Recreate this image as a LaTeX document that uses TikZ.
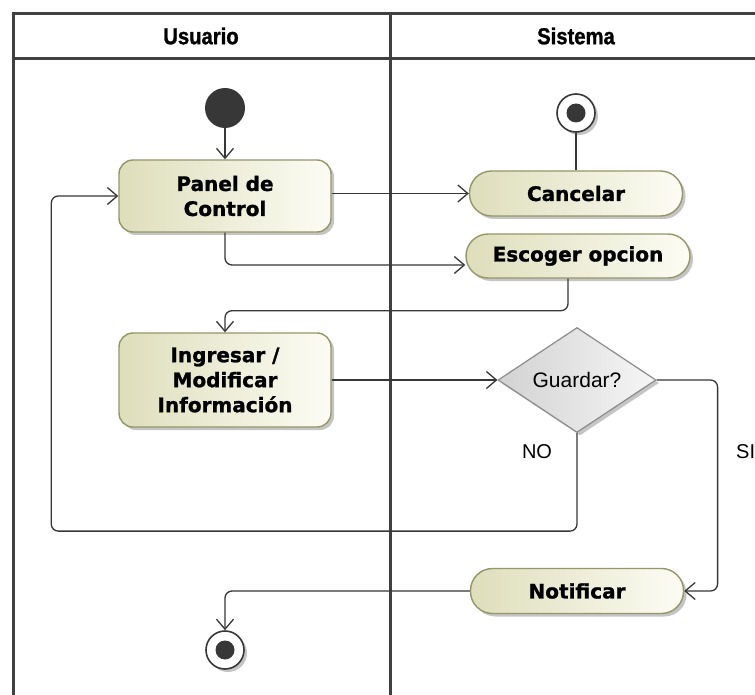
\documentclass[tikz,border=0pt]{standalone}
\usepackage{fontspec}
\setmainfont{Liberation Sans}
\newfontfamily\nodefont{DejaVu Sans}[FakeBold=1.2]
\newfontfamily\headfont{Liberation Sans}[FakeStretch=0.88,FakeBold=1.2]
\usetikzlibrary{arrows.meta,shapes.geometric,shadows,calc}
\definecolor{frame}{RGB}{64,64,64}
\definecolor{actL}{RGB}{222,222,188}
\definecolor{actR}{RGB}{252,252,244}
\definecolor{actB}{RGB}{150,150,105}
\definecolor{decL}{RGB}{210,210,210}
\definecolor{decR}{RGB}{246,246,246}
\definecolor{decB}{RGB}{140,140,140}
\definecolor{ink}{RGB}{55,55,55}
\begin{document}
\begin{tikzpicture}[x=1pt,y=-1pt,
  lane/.style={draw=frame,line width=3pt},
  head/.style={font=\headfont\bfseries\fontsize{23}{26}\selectfont,inner sep=0pt},
  shade/.style={drop shadow={shadow xshift=3pt,shadow yshift=-3pt,fill=black!45,opacity=.5}},
  act/.style={rectangle,rounded corners=14pt,draw=actB,line width=1.4pt,left color=actL,right color=actR,shade,
    font=\nodefont\bfseries\fontsize{20}{25}\selectfont,align=center,inner sep=0pt},
  pill/.style={act,rounded corners=22pt},
  dec/.style={diamond,draw=decB,line width=1.2pt,left color=decL,right color=decR,shade,inner sep=0pt,
    minimum width=158pt,minimum height=105pt,font=\fontsize{21}{24}\selectfont},
  startnode/.style={circle,fill=ink,minimum size=40pt,inner sep=0pt},
  finalnode/.style={circle,draw=ink,fill=white,line width=1.6pt,minimum size=38pt,inner sep=0pt,shade,
    path picture={\fill[ink] (path picture bounding box.center) circle (9.5pt);}},
  flow/.style={draw=ink,line width=1.3pt,rounded corners=7pt,-{Straight Barb[length=10pt,width=17pt,line width=1.3pt]}},
  plain/.style={draw=ink,line width=1.3pt},
  lbl/.style={font=\fontsize{20}{24}\selectfont,inner sep=0pt}
]
\fill[white] (0,0) rectangle (755,695);
\useasboundingbox (0,0) rectangle (755,695);
% swimlane frame
\draw[lane] (13,700) -- (13,14) -- (765,14);
\draw[lane] (13,59) -- (765,59);
\draw[lane] (390,14) -- (390,700);
\node[head] (hu) at (201,36) {Usuario};
\node[head] (hs) at (576,36) {Sistema};
% nodes
\node[startnode] (ini) at (225,108) {};
\node[act,minimum width=212pt,minimum height=72pt] (panel) at (225,196) {Panel de\\Control};
\node[finalnode] (fin1) at (576,113) {};
\node[pill,minimum width=213pt,minimum height=45pt] (canc) at (576,193.5) {Cancelar};
\node[pill,minimum width=224pt,minimum height=44pt] (esc) at (578,256) {Escoger opcion};
\node[act,minimum width=212pt,minimum height=94pt] (ing) at (225,380) {Ingresar /\\Modificar\\Información};
\node[dec] (dec) at (577,380) {Guardar?};
\node[pill,minimum width=213pt,minimum height=45pt] (notif) at (577,591) {Notificar};
\node[finalnode] (fin2) at (225,650) {};
\node[lbl] (no) at (537,452) {NO};
\node[lbl,anchor=west] (si) at (736,452) {SI};
% connectors
\draw[flow] (ini) -- (panel);
\draw[flow] (panel.east |- canc.west) -- (canc.west);
\draw[plain] (canc) -- (fin1);
\draw[flow] (panel.south) |- ([yshift=-9pt]esc.west);
\draw[flow] ([xshift=-10pt]esc.south) -- ++(0,32) -| (ing.north);
\draw[flow] (ing.east) -- (dec.west);
\draw[flow] (dec.south) -- ++(0,98) -| ($(panel.west)+(-67,0)$) -- (panel.west);
\draw[flow] (dec.east) -- ++(61,0) |- (notif.east);
\draw[flow] (notif.west) -| (fin2.north);
\end{tikzpicture}
\end{document}
